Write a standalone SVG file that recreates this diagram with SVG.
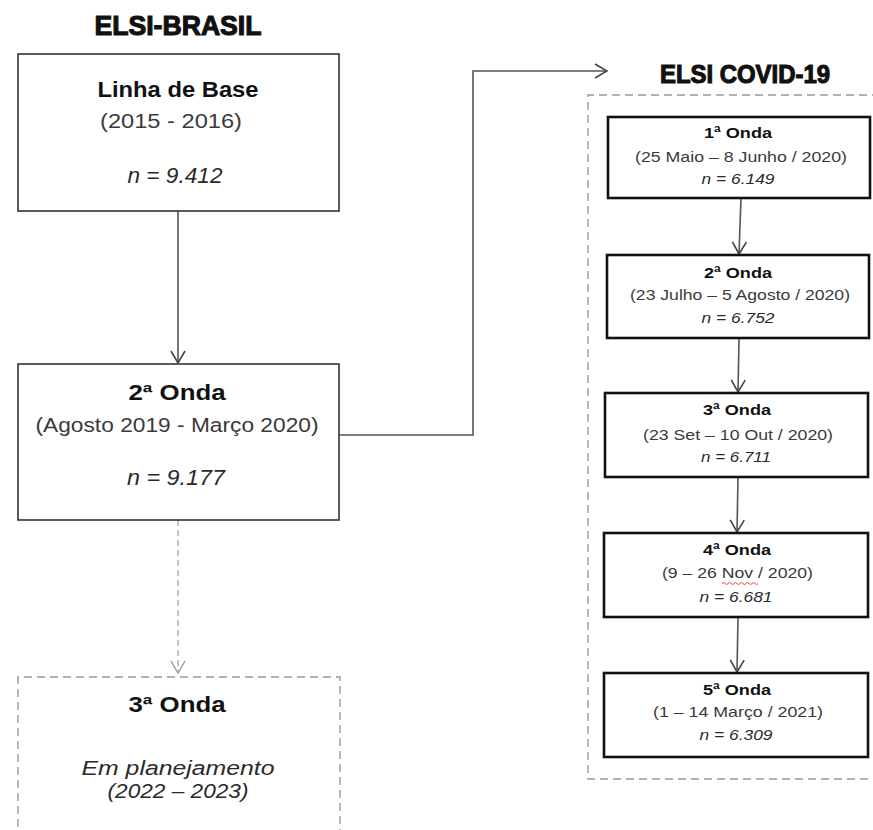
<svg xmlns="http://www.w3.org/2000/svg" width="873" height="830" viewBox="0 0 873 830">
<style>
.title{font-family:"Liberation Sans",Arial,sans-serif;font-weight:bold;fill:#111;stroke:#111;stroke-width:1.1;text-anchor:middle}
.hb{font-family:"Liberation Sans",Arial,sans-serif;font-weight:bold;fill:#111;text-anchor:middle}
.t{font-family:"Liberation Sans",Arial,sans-serif;fill:#3a3a3a;text-anchor:middle}
.it{font-family:"Liberation Sans",Arial,sans-serif;font-style:italic;fill:#2a2a2a;text-anchor:middle}
.box{fill:#fff;stroke:#333;stroke-width:1.6}
.cbox{fill:#fff;stroke:#111;stroke-width:2.6}
.dash{fill:none;stroke:#999;stroke-width:1.4;stroke-dasharray:8 5}
.conn{fill:none;stroke:#555;stroke-width:1.6}
.connd{fill:none;stroke:#aaa;stroke-width:1.4;stroke-dasharray:6 4}
</style>
<defs>
<marker id="ah" viewBox="-1 -8 14 16" refX="12" refY="0" markerWidth="14" markerHeight="16" markerUnits="userSpaceOnUse" orient="auto">
<path d="M0,-7 L12,0 L0,7" fill="none" stroke="#444" stroke-width="1.6"/>
</marker>
<marker id="ahg" viewBox="-1 -8 14 16" refX="12" refY="0" markerWidth="14" markerHeight="16" markerUnits="userSpaceOnUse" orient="auto">
<path d="M0,-7 L12,0 L0,7" fill="none" stroke="#999" stroke-width="1.4"/>
</marker>
</defs>
<rect width="873" height="830" fill="#fff"/>

<g id="titles">
<text class="title" x="178" y="35" font-size="27" textLength="167" lengthAdjust="spacingAndGlyphs">ELSI-BRASIL</text>
<text class="title" x="745" y="83" font-size="25" textLength="170" lengthAdjust="spacingAndGlyphs">ELSI COVID-19</text>
</g>

<g id="covid-container">
<path class="dash" d="M880,95 H588 V779 H880"/>
</g>

<g id="connectors">
<line class="conn" x1="178" y1="211" x2="178" y2="363" marker-end="url(#ah)"/>
<line class="connd" x1="178" y1="520" x2="178" y2="673" marker-end="url(#ahg)"/>
<polyline class="conn" points="339,435 473,435 473,71 607,71" marker-end="url(#ah)"/>
<line class="conn" x1="741" y1="198" x2="739" y2="254" marker-end="url(#ah)"/>
<line class="conn" x1="739" y1="339" x2="738" y2="392" marker-end="url(#ah)"/>
<line class="conn" x1="738" y1="478" x2="737" y2="532" marker-end="url(#ah)"/>
<line class="conn" x1="738" y1="618" x2="737" y2="672" marker-end="url(#ah)"/>
</g>

<g id="linha-base">
<rect class="box" x="18" y="54" width="321" height="157"/>
<text class="hb" x="178" y="97" font-size="22" textLength="161" lengthAdjust="spacingAndGlyphs">Linha de Base</text>
<text class="t" x="171" y="128" font-size="20.5" textLength="142" lengthAdjust="spacingAndGlyphs">(2015 - 2016)</text>
<text class="it" x="175" y="183" font-size="22" textLength="95" lengthAdjust="spacingAndGlyphs">n = 9.412</text>
</g>

<g id="onda2">
<rect class="box" x="18" y="364" width="321" height="156"/>
<text class="hb" x="177" y="400" font-size="22" textLength="97" lengthAdjust="spacingAndGlyphs">2ª Onda</text>
<text class="t" x="177" y="432" font-size="20.5" textLength="283" lengthAdjust="spacingAndGlyphs">(Agosto 2019 - Março 2020)</text>
<text class="it" x="176" y="485" font-size="22" textLength="98" lengthAdjust="spacingAndGlyphs">n = 9.177</text>
</g>

<g id="onda3">
<path class="dash" d="M18,840 V677 H340 V840"/>
<text class="hb" x="177" y="712" font-size="22" textLength="97" lengthAdjust="spacingAndGlyphs">3ª Onda</text>
<text class="it" x="178" y="775" font-size="19.5" textLength="193" lengthAdjust="spacingAndGlyphs">Em planejamento</text>
<text class="it" x="178" y="798" font-size="19.5" textLength="141" lengthAdjust="spacingAndGlyphs">(2022 – 2023)</text>
</g>

<g id="covid-onda1">
<rect class="cbox" x="608" y="117" width="262" height="81"/>
<text class="hb" x="738" y="138" font-size="15.5" textLength="68" lengthAdjust="spacingAndGlyphs">1ª Onda</text>
<text class="t" x="741" y="162" font-size="15" textLength="212" lengthAdjust="spacingAndGlyphs">(25 Maio – 8 Junho / 2020)</text>
<text class="it" x="738" y="184" font-size="15" textLength="73" lengthAdjust="spacingAndGlyphs">n = 6.149</text>
</g>

<g id="covid-onda2">
<rect class="cbox" x="607" y="255" width="262" height="83"/>
<text class="hb" x="738" y="278" font-size="15.5" textLength="68" lengthAdjust="spacingAndGlyphs">2ª Onda</text>
<text class="t" x="740" y="300" font-size="15" textLength="220" lengthAdjust="spacingAndGlyphs">(23 Julho – 5 Agosto / 2020)</text>
<text class="it" x="738" y="323" font-size="15" textLength="73" lengthAdjust="spacingAndGlyphs">n = 6.752</text>
</g>

<g id="covid-onda3">
<rect class="cbox" x="605" y="393" width="263" height="84"/>
<text class="hb" x="737" y="415" font-size="15.5" textLength="68" lengthAdjust="spacingAndGlyphs">3ª Onda</text>
<text class="t" x="738" y="440" font-size="15" textLength="190" lengthAdjust="spacingAndGlyphs">(23 Set – 10 Out / 2020)</text>
<text class="it" x="736" y="462" font-size="15" textLength="70" lengthAdjust="spacingAndGlyphs">n = 6.711</text>
</g>

<g id="covid-onda4">
<rect class="cbox" x="604" y="533" width="264" height="84"/>
<text class="hb" x="737" y="555" font-size="15.5" textLength="68" lengthAdjust="spacingAndGlyphs">4ª Onda</text>
<text class="t" x="737.5" y="578" font-size="15" textLength="151" lengthAdjust="spacingAndGlyphs">(9 – 26 Nov / 2020)</text>
<path d="M722,583.5 q1.5,-2 3,0 t3,0 t3,0 t3,0 t3,0 t3,0 t3,0 t3,0 t3,0 t3,0 t3,0 t3,0" fill="none" stroke="#e03030" stroke-width="0.9"/>
<text class="it" x="736" y="602" font-size="15" textLength="73" lengthAdjust="spacingAndGlyphs">n = 6.681</text>
</g>

<g id="covid-onda5">
<rect class="cbox" x="604" y="673" width="264" height="84"/>
<text class="hb" x="737" y="695" font-size="15.5" textLength="68" lengthAdjust="spacingAndGlyphs">5ª Onda</text>
<text class="t" x="738" y="717" font-size="15" textLength="170" lengthAdjust="spacingAndGlyphs">(1 – 14 Março / 2021)</text>
<text class="it" x="736" y="740" font-size="15" textLength="73" lengthAdjust="spacingAndGlyphs">n = 6.309</text>
</g>
</svg>
